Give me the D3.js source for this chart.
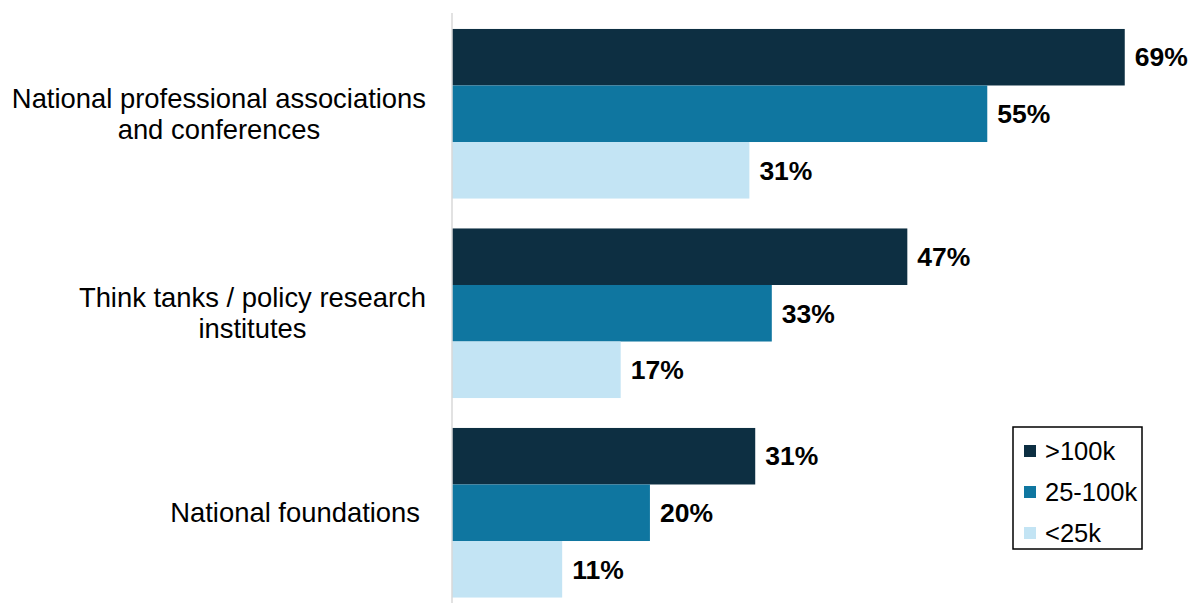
<!DOCTYPE html>
<html>
<head>
<meta charset="utf-8">
<script src="https://cdn.jsdelivr.net/npm/d3@7"></script>
<style>
  body { margin: 0; background: #fff; }
  text { font-family: "Liberation Sans", Arial, sans-serif; }
</style>
</head>
<body>
<div id="chart"></div>
<script>
// Data (bar lengths, labels show rounded values)
var categories = [
    ["National professional associations", "and conferences"],
    ["Think tanks / policy research", "institutes"],
    ["National foundations"]
];
var seriesNames = [">100k", "25-100k", "<25k"];
var seriesColors = ["#0d2f42", "#0f76a0", "#c3e4f4"];
var over100k = [69, 46.7, 31.1];
var mid25to100k = [54.9, 32.8, 20.3];
var under25k = [30.5, 17.3, 11.3];

var seriesValues = [over100k, mid25to100k, under25k];

var svgWidth = 1192;
var svgHeight = 603;
var axisX = 452;

var svg = d3.select("#chart")
    .append("svg")
    .attr("width", svgWidth)
    .attr("height", svgHeight);

// Scales
var y0 = d3.scaleBand()
    .domain(d3.range(categories.length))
    .range([14, 612.5])
    .paddingInner(0.15)
    .paddingOuter(0.075);

var y1 = d3.scaleBand()
    .domain(d3.range(seriesNames.length))
    .range([0, y0.bandwidth()]);

var x = d3.scaleLinear()
    .domain([0, 100])
    .range([axisX, axisX + 975]);

// Bars
var groups = svg.selectAll("g.group")
    .data(categories)
    .enter()
    .append("g")
    .attr("class", "group")
    .attr("transform", (d, i) => `translate(0, ${y0(i)})`);

groups.selectAll("rect")
    .data((d, i) => seriesValues.map((s, j) => ({ s: j, v: s[i] })))
    .enter()
    .append("rect")
    .attr("x", x(0))
    .attr("y", d => y1(d.s))
    .attr("width", d => x(d.v) - x(0))
    .attr("height", y1.bandwidth())
    .attr("fill", d => seriesColors[d.s]);

groups.selectAll("text.value")
    .data((d, i) => seriesValues.map((s, j) => ({ s: j, v: s[i] })))
    .enter()
    .append("text")
    .attr("class", "value")
    .attr("x", d => x(d.v) + 10)
    .attr("y", d => y1(d.s) + y1.bandwidth() / 2)
    .attr("dy", "0.35em")
    .attr("font-size", "26.5px")
    .attr("font-weight", "bold")
    .attr("fill", "#000")
    .text(d => Math.round(d.v) + "%");

// Axis line
svg.append("line")
    .attr("x1", axisX).attr("x2", axisX)
    .attr("y1", 13).attr("y2", svgHeight)
    .attr("stroke", "#d9d9d9")
    .attr("stroke-width", 1.5);

// Category labels (multi-line, centered block, right aligned)
var labelRight = 426;
categories.forEach(function(lines, i) {
    var g = svg.append("g");
    var texts = lines.map(function(line) {
        return g.append("text")
            .attr("font-size", "27.4px")
            .attr("fill", "#000")
            .attr("text-anchor", "middle")
            .text(line);
    });
    var maxW = d3.max(texts, t => t.node().getComputedTextLength());
    var cx = labelRight - maxW / 2;
    if (lines.length === 1) cx -= 6;
    var lh = 31;
    var cy = y0(i) + y0.bandwidth() / 2;
    texts.forEach(function(t, k) {
        t.attr("x", cx)
         .attr("y", cy + (k - (lines.length - 1) / 2) * lh)
         .attr("dy", "0.35em");
    });
});

// Legend
var legend = svg.append("g")
    .attr("transform", "translate(1013, 427)");

legend.append("rect")
    .attr("width", 129)
    .attr("height", 122)
    .attr("fill", "#fff")
    .attr("stroke", "#000")
    .attr("stroke-width", 1.5);

var items = legend.selectAll("g.item")
    .data(seriesNames)
    .enter()
    .append("g")
    .attr("class", "item")
    .attr("transform", (d, i) => `translate(11, ${24 + i * 41})`);

items.append("rect")
    .attr("y", -6)
    .attr("width", 12)
    .attr("height", 12)
    .attr("fill", (d, i) => seriesColors[i]);

items.append("text")
    .attr("x", 21)
    .attr("dy", "0.35em")
    .attr("font-size", "25.5px")
    .attr("fill", "#000")
    .text(d => d);
</script>
</body>
</html>
